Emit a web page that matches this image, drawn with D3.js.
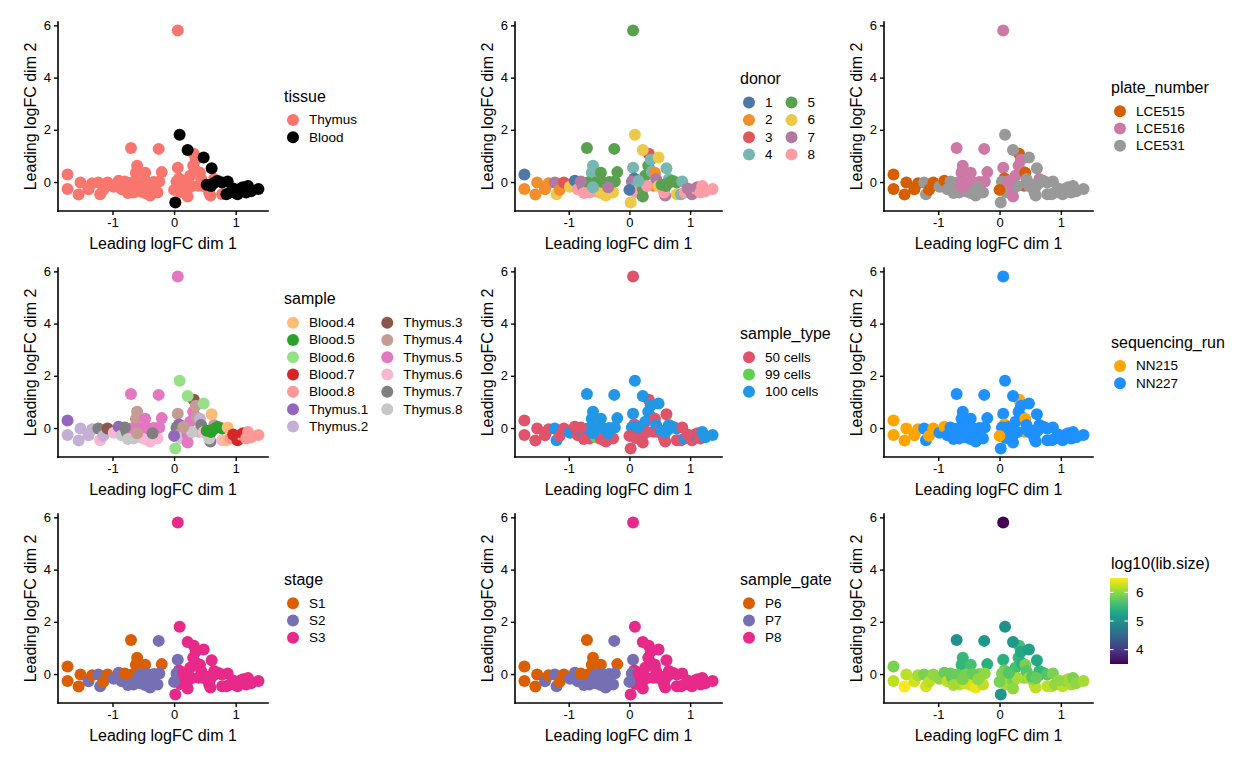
<!DOCTYPE html>
<html><head><meta charset="utf-8">
<script src="https://cdn.jsdelivr.net/npm/d3@7"></script>
<style>body{margin:0;background:#fff;} svg{display:block;font-family:"Liberation Sans",Arial,Helvetica,sans-serif;}</style>
</head><body><svg id="c" width="1248" height="768"></svg>
<script>
// ---- data (MDS coordinates and per-sample annotations) ----
const dim1 = [-1.73,-1.73,-1.52,-1.55,-1.39,-1.33,-1.23,-1.20,-1.15,-1.08,
-0.98,-0.90,-0.85,-0.77,-0.70,-0.60,-0.62,-0.47,-0.69,-0.55,
-0.66,-0.55,-0.47,-0.39,-0.33,-0.27,-0.25,-0.20,-0.24,-0.44,
-0.75,-0.60,-0.35,-0.80,0.06,0.06,0.08,0.04,0.06,0.10,
0.22,0.22,0.26,0.31,0.37,0.32,0.42,0.40,0.44,0.29,
0.48,0.59,0.57,0.65,0.72,0.78,0.15,0.00,0.35,0.55,
0.09,0.22,0.48,0.61,0.02,0.53,0.64,0.70,0.78,0.87,
0.85,0.91,0.98,1.03,1.08,1.12,1.17,1.20,1.25,1.37,
0.60,0.96];
const dim2 = [0.29,-0.27,-0.02,-0.48,-0.28,-0.05,-0.02,-0.47,-0.30,-0.02,
-0.18,0.05,-0.28,-0.15,1.30,0.62,0.36,0.36,-0.02,-0.02,
-0.40,-0.35,-0.42,-0.52,0.00,-0.40,1.27,0.38,0.02,0.00,
-0.42,-0.20,-0.20,0.02,5.80,0.55,0.14,0.02,-0.27,-0.38,
-0.27,-0.55,0.24,0.62,0.40,1.08,0.36,-0.14,0.12,-0.15,
-0.15,-0.52,-0.40,0.12,0.04,-0.47,0.04,-0.30,0.85,-0.20,
1.81,1.23,0.94,0.53,-0.78,-0.10,-0.05,0.04,-0.02,0.02,
-0.47,-0.40,-0.30,-0.47,-0.25,-0.20,-0.40,-0.15,-0.35,-0.27,
-0.15,-0.25];
const sample = ["Thymus.1","Thymus.2","Thymus.2","Thymus.2","Thymus.2","Thymus.2","Thymus.7","Thymus.6","Thymus.2","Thymus.3",
"Thymus.6","Thymus.1","Thymus.8","Thymus.7","Thymus.5","Thymus.4","Thymus.4","Thymus.5","Thymus.5","Thymus.5",
"Thymus.8","Thymus.8","Thymus.6","Thymus.6","Thymus.5","Thymus.6","Thymus.5","Thymus.5","Thymus.5","Thymus.5",
"Thymus.8","Thymus.4","Thymus.7","Thymus.7","Thymus.5","Thymus.4","Thymus.1","Thymus.7","Thymus.4","Thymus.8",
"Thymus.5","Thymus.5","Thymus.5","Thymus.5","Thymus.4","Thymus.3","Thymus.2","Thymus.2","Thymus.7","Thymus.8",
"Thymus.6","Thymus.7","Thymus.8","Thymus.4","Thymus.4","Thymus.6","Thymus.4","Thymus.1","Thymus.4","Thymus.8",
"Blood.6","Blood.6","Blood.6","Blood.4","Blood.6","Blood.5","Blood.5","Blood.5","Blood.5","Blood.4",
"Blood.4","Blood.8","Blood.8","Blood.7","Blood.8","Blood.7","Blood.8","Blood.8","Blood.8","Blood.8",
"Blood.5","Blood.7"];
const plate = ["LCE515","LCE515","LCE515","LCE515","LCE515","LCE515","LCE531","LCE531","LCE515","LCE515",
"LCE531","LCE515","LCE531","LCE531","LCE516","LCE516","LCE516","LCE516","LCE516","LCE516",
"LCE531","LCE531","LCE531","LCE531","LCE516","LCE531","LCE516","LCE516","LCE516","LCE516",
"LCE531","LCE516","LCE531","LCE531","LCE516","LCE516","LCE515","LCE531","LCE516","LCE531",
"LCE516","LCE516","LCE516","LCE516","LCE516","LCE515","LCE515","LCE515","LCE531","LCE531",
"LCE531","LCE531","LCE531","LCE516","LCE516","LCE531","LCE516","LCE515","LCE516","LCE531",
"LCE531","LCE531","LCE531","LCE531","LCE531","LCE531","LCE531","LCE531","LCE531","LCE531",
"LCE531","LCE531","LCE531","LCE531","LCE531","LCE531","LCE531","LCE531","LCE531","LCE531",
"LCE531","LCE531"];
const cellsPerWell = [50,50,50,50,50,50,100,100,50,50,
100,50,50,100,100,100,100,100,100,100,
50,99,50,50,100,50,100,100,100,100,
50,100,100,50,50,100,50,100,100,50,
50,50,100,100,100,50,50,50,100,50,
50,50,50,100,50,50,100,50,100,50,
100,100,100,50,50,100,100,100,100,50,
50,100,50,50,100,50,50,100,100,100,
100,50];
const stage = ["S1","S1","S1","S1","S2","S1","S2","S2","S1","S1",
"S2","S2","S2","S2","S1","S1","S1","S1","S1","S2",
"S2","S2","S2","S2","S2","S2","S2","S1","S2","S2",
"S2","S2","S2","S1","S3","S2","S3","S2","S2","S3",
"S3","S3","S3","S3","S3","S3","S3","S3","S3","S3",
"S3","S3","S3","S3","S3","S3","S3","S2","S3","S3",
"S3","S3","S3","S3","S3","S3","S3","S3","S3","S3",
"S3","S3","S3","S3","S3","S3","S3","S3","S3","S3",
"S3","S3"];
const libSize = [5.9,6.2,6.2,6.5,6.3,6.1,5.9,6.3,6.2,6.0,
6.0,5.8,6.2,5.7,5.0,5.5,5.5,5.6,5.8,5.9,
6.2,6.3,6.3,6.4,5.9,6.2,5.1,5.4,6.0,5.8,
6.1,5.9,6.0,5.8,3.5,5.4,5.8,5.9,5.9,6.1,
5.9,6.0,5.6,5.5,5.4,5.6,5.9,6.0,5.7,6.1,
6.1,6.2,6.2,5.5,5.8,6.2,5.7,5.9,5.3,6.0,
5.0,5.1,5.2,5.3,5.1,5.7,5.6,5.5,5.7,5.9,
6.2,6.0,6.1,6.2,6.0,6.1,6.1,5.9,6.0,6.1,
5.8,6.0];
const runByPlate = {LCE515:"NN215", LCE516:"NN227", LCE531:"NN227"};
const gateByStage = {S1:"P6", S2:"P7", S3:"P8"};

const tissueCats = ["Thymus","Blood"];
const donorCats = ["1","2","3","4","5","6","7","8"];
const plateCats = ["LCE515","LCE516","LCE531"];
const sampleCats = ["Blood.4","Blood.5","Blood.6","Blood.7","Blood.8","Thymus.1","Thymus.2","Thymus.3","Thymus.4","Thymus.5","Thymus.6","Thymus.7","Thymus.8"];
const typeCats = ["50 cells","99 cells","100 cells"];
const runCats = ["NN215","NN227"];
const stageCats = ["S1","S2","S3"];
const gateCats = ["P6","P7","P8"];
const xTicks = [-1,0,1];
const yTicks = [0,2,4,6];
const libTicks = [4,5,6];

const tissueColors = ["#F8766D","#000000"];
const donorColors = ["#4E79A7","#F28E2B","#E15759","#76B7B2","#59A14F","#EDC948","#B07AA1","#FF9DA7"];
const plateColors = ["#D55E00","#CC79A7","#999999"];
const sampleColors = ["#FFBB78","#2CA02C","#98DF8A","#D62728","#FF9896","#9467BD","#C5B0D5","#8C564B","#C49C94","#E377C2","#F7B6D2","#7F7F7F","#C7C7C7"];
const typeColors = ["#DF536B","#61D04F","#2297E6"];
const runColors = ["#FFA500","#1E90FF"];
const stageColors = ["#D95F02","#7570B3","#E7298A"];

// ---- derived per-point values ----
const n = dim1.length;
const tissue = sample.map(s => s.split(".")[0]);
const donor = sample.map(s => s.split(".")[1]);
const seqRun = plate.map(p => runByPlate[p]);
const gate = stage.map(s => gateByStage[s]);
const sampleType = cellsPerWell.map(c => c + " cells");

// ---- layout ----
const svg = d3.select("#c");
const colX = [[58,268],[515,722],[884,1093]];
const rowY = [[22,211],[268,457],[514,703]];
const legX = [284,740,1111];
const R = 6;

const padExt = e => { const r = e[1]-e[0]; return [e[0]-0.05*r, e[1]+0.05*r]; };
const xDom = padExt(d3.extent(dim1)), yDom = padExt(d3.extent(dim2));
const fmt = d => String(d);

const panels = [
  {title:"tissue", vals:tissue, cats:tissueCats, cols:tissueColors, ncol:1},
  {title:"donor", vals:donor, cats:donorCats, cols:donorColors, ncol:2},
  {title:"plate_number", vals:plate, cats:plateCats, cols:plateColors, ncol:1},
  {title:"sample", vals:sample, cats:sampleCats, cols:sampleColors, ncol:2},
  {title:"sample_type", vals:sampleType, cats:typeCats, cols:typeColors, ncol:1},
  {title:"sequencing_run", vals:seqRun, cats:runCats, cols:runColors, ncol:1},
  {title:"stage", vals:stage, cats:stageCats, cols:stageColors, ncol:1},
  {title:"sample_gate", vals:gate, cats:gateCats, cols:stageColors, ncol:1},
  {title:"log10(lib.size)", vals:libSize, continuous:true}
];

const libExt = d3.extent(libSize);
const viridis = d3.scaleSequential(d3.interpolateViridis).domain(libExt);

panels.forEach((p, k) => {
  const c = k % 3, r = Math.floor(k / 3);
  const [x0, x1] = colX[c], [y0, y1] = rowY[r];
  const x = d3.scaleLinear().domain(xDom).range([x0, x1]);
  const y = d3.scaleLinear().domain(yDom).range([y1, y0]);
  const g = svg.append("g");
  const color = p.continuous ? (v => viridis(v)) : d3.scaleOrdinal().domain(p.cats).range(p.cols);

  // points
  g.append("g").selectAll("circle").data(d3.range(n)).join("circle")
    .attr("cx", i => x(dim1[i])).attr("cy", i => y(dim2[i])).attr("r", R)
    .attr("fill", i => color(p.vals[i]));

  // axes
  const xa = g.append("g").attr("transform", `translate(0,${y1})`)
    .call(d3.axisBottom(x).tickValues(xTicks).tickSize(4).tickPadding(3).tickFormat(fmt));
  const ya = g.append("g").attr("transform", `translate(${x0},0)`)
    .call(d3.axisLeft(y).tickValues(yTicks).tickSize(4).tickPadding(3).tickFormat(fmt));
  [xa, ya].forEach(a => {
    a.select(".domain").remove();
    a.selectAll("line").attr("stroke", "#000").attr("stroke-width", 1.4);
    a.selectAll("text").attr("fill", "#000").style("font-size", "13px").style("font-family", "inherit");
  });
  g.append("line").attr("x1", x0).attr("x2", x1).attr("y1", y1).attr("y2", y1)
    .attr("stroke", "#000").attr("stroke-width", 1.6).attr("stroke-linecap", "square");
  g.append("line").attr("x1", x0).attr("x2", x0).attr("y1", y0).attr("y2", y1)
    .attr("stroke", "#000").attr("stroke-width", 1.6).attr("stroke-linecap", "square");

  // axis titles
  g.append("text").attr("x", (x0 + x1) / 2).attr("y", y1 + 32).attr("text-anchor", "middle")
    .attr("dominant-baseline", "central").style("font-size", "16px").text("Leading logFC dim 1");
  g.append("text").attr("transform", `translate(${x0 - 28},${(y0 + y1) / 2}) rotate(-90)`)
    .attr("text-anchor", "middle").attr("dominant-baseline", "central")
    .style("font-size", "16px").text("Leading logFC dim 2");

  // legend
  const lx = legX[c], cy = (y0 + y1) / 2;
  const lg = g.append("g");
  if (!p.continuous) {
    const nRows = Math.ceil(p.cats.length / p.ncol);
    const H = 9 + 23.7 + (nRows - 1) * 17.3 + 8.6;
    const top = cy - H / 2;
    lg.append("text").attr("x", lx).attr("y", top + 9).attr("dominant-baseline", "central")
      .style("font-size", "16px").text(p.title);
    let keyX = lx + 9;
    for (let cc = 0; cc < p.ncol; cc++) {
      const items = p.cats.slice(cc * nRows, (cc + 1) * nRows);
      let maxW = 0;
      items.forEach((cat, j) => {
        const yy = top + 32.7 + j * 17.3;
        lg.append("circle").attr("cx", keyX).attr("cy", yy).attr("r", R).attr("fill", color(cat));
        const t = lg.append("text").attr("x", keyX + 16).attr("y", yy).attr("dominant-baseline", "central")
          .style("font-size", "13.5px").text(cat);
        maxW = Math.max(maxW, t.node().getComputedTextLength());
      });
      keyX = keyX + 16 + maxW + 19;
    }
  } else {
    const barTop = cy - 30.5, barBot = cy + 55.5, bx = lx - 1, bw = 18;
    lg.append("text").attr("x", lx).attr("y", cy - 45.5).attr("dominant-baseline", "central")
      .style("font-size", "16px").text(p.title);
    const grad = svg.append("defs").append("linearGradient").attr("id", "vgrad")
      .attr("x1", 0).attr("y1", 1).attr("x2", 0).attr("y2", 0);
    d3.range(0, 1.0001, 0.05).forEach(t => {
      grad.append("stop").attr("offset", t).attr("stop-color", viridis(libExt[0] + t * (libExt[1] - libExt[0])));
    });
    lg.append("rect").attr("x", bx).attr("y", barTop).attr("width", bw).attr("height", barBot - barTop)
      .attr("fill", "url(#vgrad)");
    const ls = d3.scaleLinear().domain(libExt).range([barBot, barTop]);
    libTicks.forEach(v => {
      const yy = ls(v);
      lg.append("line").attr("x1", bx).attr("x2", bx + 3.6).attr("y1", yy).attr("y2", yy).attr("stroke", "#fff").attr("stroke-width", 1);
      lg.append("line").attr("x1", bx + bw - 3.6).attr("x2", bx + bw).attr("y1", yy).attr("y2", yy).attr("stroke", "#fff").attr("stroke-width", 1);
      lg.append("text").attr("x", bx + bw + 8).attr("y", yy).attr("dominant-baseline", "central")
        .style("font-size", "13.5px").text(v);
    });
  }
});
</script></body></html>
